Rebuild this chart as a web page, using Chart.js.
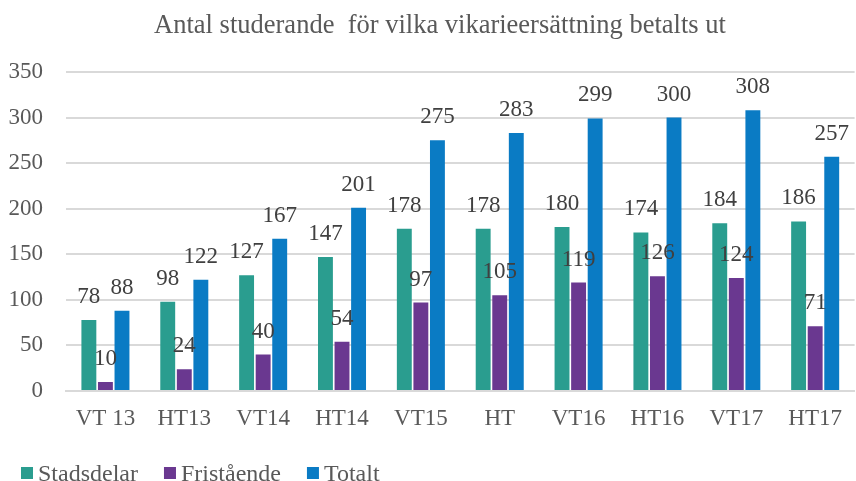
<!DOCTYPE html>
<html>
<head>
<meta charset="utf-8">
<script src="https://cdn.jsdelivr.net/npm/chart.js@4"></script>
<style>
  html, body { margin: 0; padding: 0; background: #fff; }
  #wrap { width: 856px; height: 481px; }
</style>
</head>
<body>
<div id="wrap"><canvas id="myChart"></canvas></div>
<script>
const categories = ['VT 13', 'HT13', 'VT14', 'HT14', 'VT15', 'HT', 'VT16', 'HT16', 'VT17', 'HT17'];
const stadsdelar = [78, 98, 127, 147, 178, 178, 180, 174, 184, 186];
const fristaende = [10, 24, 40, 54, 97, 105, 119, 126, 124, 71];
const totalt = [88, 122, 167, 201, 275, 283, 299, 300, 308, 257];
const yTicks = [0, 50, 100, 150, 200, 250, 300, 350];
const titleText = 'Antal studerande  för vilka vikarieersättning betalts ut';

const fontFamily = '"Liberation Serif", "Times New Roman", serif';
const textColor = '#595959';

// title, value labels and legend drawn on the canvas
const extras = {
  id: 'extras',
  afterDatasetsDraw(chart) {
    const ctx = chart.ctx;
    ctx.save();
    ctx.font = '23px ' + fontFamily;
    ctx.fillStyle = '#404040';
    ctx.textAlign = 'center';
    ctx.textBaseline = 'alphabetic';
    chart.data.datasets.forEach((ds, i) => {
      chart.getDatasetMeta(i).data.forEach((bar, j) => {
        ctx.fillText(ds.data[j], bar.x, bar.y - 17);
      });
    });
    ctx.restore();
  },
  afterDraw(chart) {
    const ctx = chart.ctx;
    ctx.save();
    // title
    ctx.font = '26.5px ' + fontFamily;
    ctx.fillStyle = textColor;
    ctx.textAlign = 'center';
    ctx.textBaseline = 'alphabetic';
    ctx.fillText(titleText, 440, 33);
    // legend
    ctx.font = '24px ' + fontFamily;
    ctx.textAlign = 'left';
    let x = 21;
    chart.data.datasets.forEach((ds) => {
      ctx.fillStyle = ds.backgroundColor;
      ctx.fillRect(x, 467, 12, 12);
      ctx.fillStyle = textColor;
      ctx.fillText(ds.label, x + 17, 481);
      x += 17 + ctx.measureText(ds.label).width + 26;
    });
    ctx.restore();
  },
};

const ctx = document.getElementById('myChart').getContext('2d');
const chart = new Chart(ctx, {
  type: 'bar',
  data: {
    labels: categories,
    datasets: [
      { label: 'Stadsdelar', data: stadsdelar, backgroundColor: '#2A9D8F' },
      { label: 'Fristående', data: fristaende, backgroundColor: '#6A3890' },
      { label: 'Totalt', data: totalt, backgroundColor: '#0A7BC4' },
    ],
  },
  options: {
    responsive: true,
    maintainAspectRatio: false,
    animation: false,
    datasets: {
      bar: { categoryPercentage: 0.63, barPercentage: 0.9 },
    },
    layout: { padding: { left: 0, right: 0, top: 72, bottom: 40 } },
    plugins: {
      title: { display: false },
      legend: { display: false },
      tooltip: { enabled: false },
    },
    scales: {
      x: {
        afterFit: (axis) => { axis.height = 50; },
        grid: { display: false, drawTicks: false },
        border: { color: '#d9d9d9', width: 2 },
        ticks: {
          color: textColor,
          font: { family: fontFamily, size: 23 },
          maxRotation: 0,
          padding: 14,
        },
      },
      y: {
        min: 0,
        max: 350,
        afterFit: (axis) => { axis.width = 66; },
        afterBuildTicks: (axis) => {
          axis.ticks = yTicks.map((v) => ({ value: v }));
        },
        grid: { color: '#d9d9d9', lineWidth: 2, drawTicks: false },
        border: { display: false },
        ticks: {
          color: textColor,
          font: { family: fontFamily, size: 23 },
          padding: 23,
        },
      },
    },
  },
  plugins: [extras],
});
</script>
</body>
</html>
